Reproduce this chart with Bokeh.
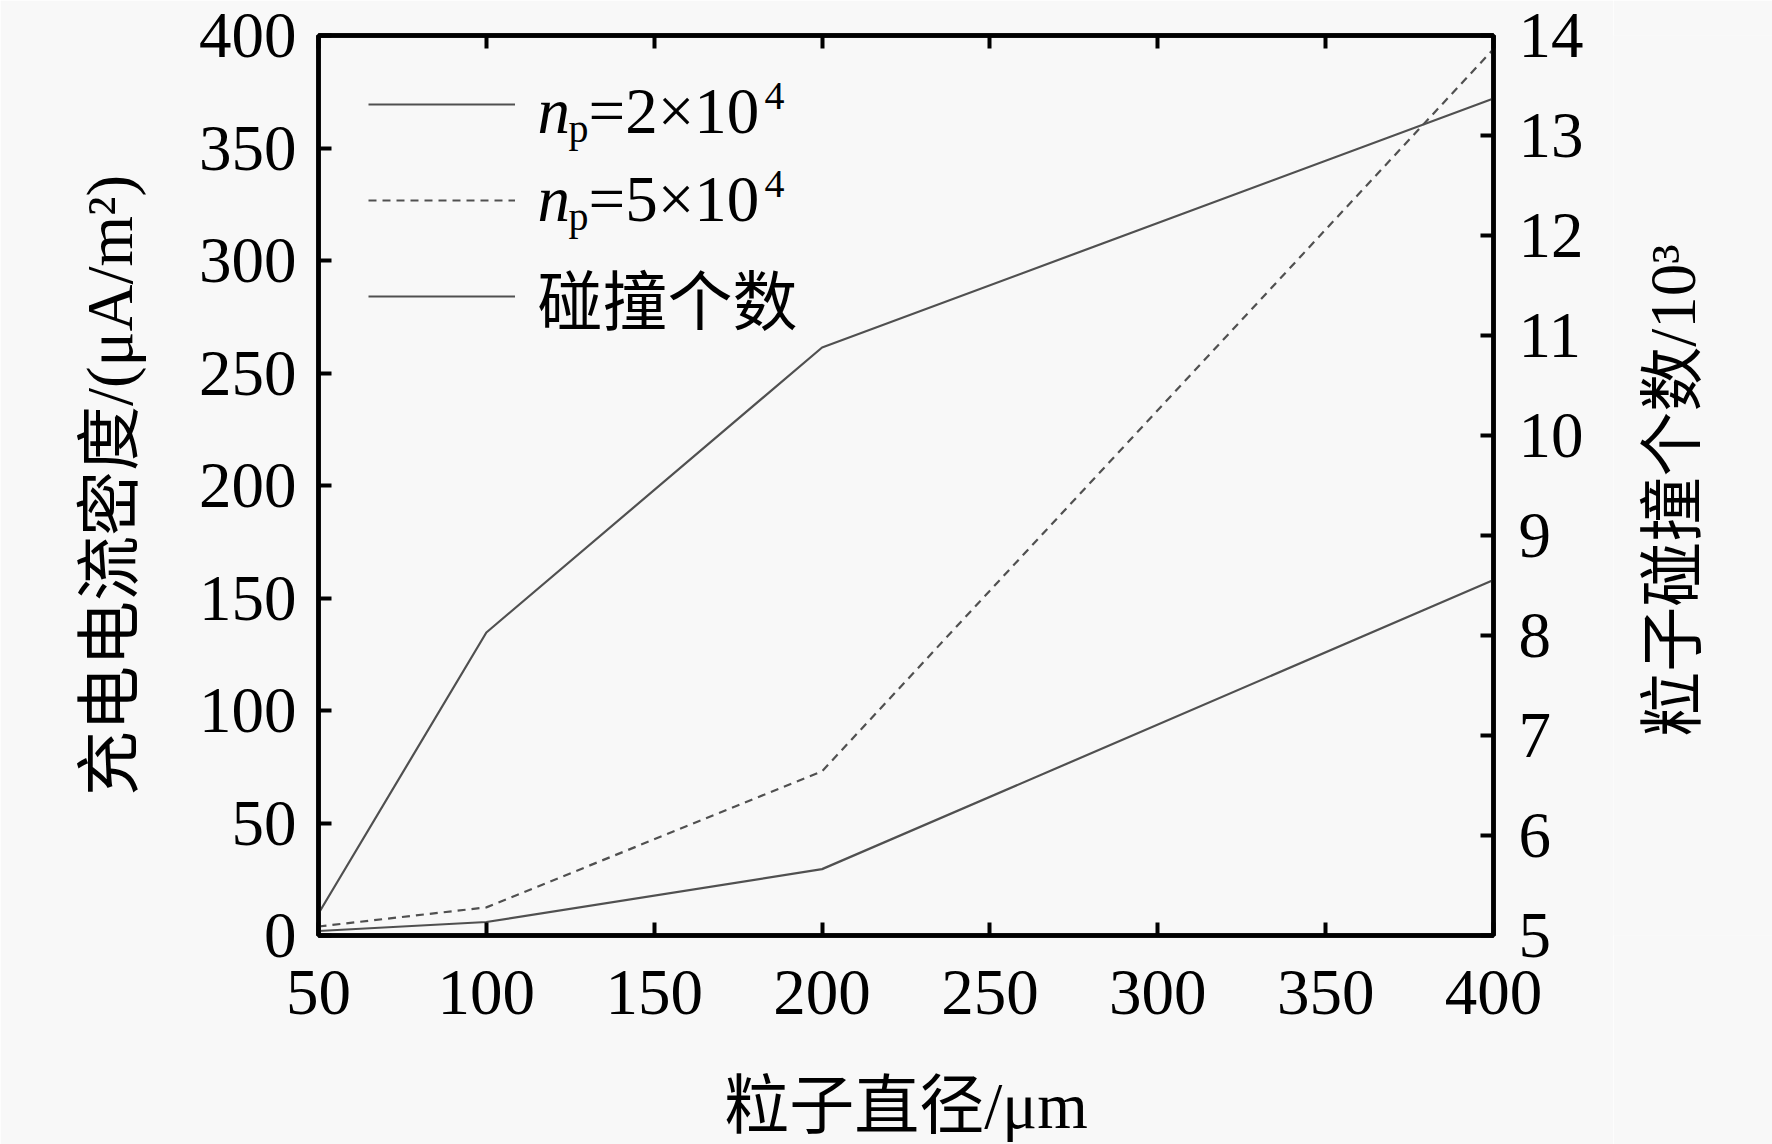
import math
from bokeh.plotting import figure
from bokeh.layouts import row
from bokeh.models import (Range1d, LinearAxis, FixedTicker, Legend, LegendItem,
                          Label, CustomJSTickFormatter)
from bokeh.embed import file_html
from bokeh.resources import INLINE

# ---- data ----
diameter_um = [50, 100, 200, 400]
current_np_2e4 = [2.0, 6.0, 29.5, 158.0]      # uA/m^2, left axis
current_np_5e4 = [4.0, 12.5, 73.0, 394.0]     # uA/m^2, left axis
collisions_1e3 = [5.22, 8.03, 10.88, 13.37]   # x10^3, right axis

x_ticks = [50, 100, 150, 200, 250, 300, 350, 400]
left_ticks = [0, 50, 100, 150, 200, 250, 300, 350, 400]
right_ticks = [5, 6, 7, 8, 9, 10, 11, 12, 13, 14]

x_title = "粒子直径/μm"
left_title = "充电电流密度/(μA/m²)"
right_title = "粒子碰撞个数/10³"

FONT = "Liberation Serif, Noto Sans CJK SC"
BG = "#f8f8f8"
LINE = "#505050"
FS = "65px"

p = figure(width=1613, height=1144, output_backend="svg", toolbar_location=None,
           x_range=Range1d(50, 400), y_range=Range1d(0, 400),
           min_border_left=318, min_border_right=120, min_border_top=35,
           min_border_bottom=207, background_fill_color=BG, border_fill_color=BG)
p.grid.visible = False
p.outline_line_color = "black"
p.outline_line_width = 4.5
p.extra_y_ranges = {"right": Range1d(5, 14)}


def style_axis(ax, standoff):
    ax.axis_line_color = "black"
    ax.axis_line_width = 4.5
    ax.major_tick_in = 13
    ax.major_tick_out = 0
    ax.major_tick_line_width = 4
    ax.minor_tick_line_color = None
    ax.major_label_text_font = FONT
    ax.major_label_text_font_size = FS
    ax.major_label_text_color = "black"
    ax.major_label_standoff = standoff
    ax.axis_label_text_font = FONT
    ax.axis_label_text_font_size = FS
    ax.axis_label_text_font_style = "normal"
    ax.axis_label_text_color = "black"


xa = p.xaxis[0]
xa.ticker = FixedTicker(ticks=x_ticks)
xa.axis_label = x_title
style_axis(xa, 35)
xa.axis_label_standoff = 53

ya = p.yaxis[0]
ya.ticker = FixedTicker(ticks=left_ticks)
ya.axis_label = left_title
style_axis(ya, 22)
ya.axis_label_standoff = 50

# right axis: ticks and tick labels
ra = LinearAxis(y_range_name="right", ticker=FixedTicker(ticks=right_ticks))
style_axis(ra, 25)
p.add_layout(ra, "right")

ta = LinearAxis(ticker=FixedTicker(ticks=x_ticks),
                formatter=CustomJSTickFormatter(code="return ''"))
style_axis(ta, 0)
ta.major_label_text_font_size = "1px"
p.add_layout(ta, "above")

r1 = p.line(diameter_um, current_np_2e4, line_color=LINE, line_width=2.2)
r2 = p.line(diameter_um, current_np_5e4, line_color=LINE, line_width=2.2,
            line_dash="8 6")
r3 = p.line(diameter_um, collisions_1e3, line_color=LINE, line_width=2.2,
            y_range_name="right")

legend = Legend(items=[LegendItem(label="", renderers=[r1]),
                       LegendItem(label="", renderers=[r2]),
                       LegendItem(label="", renderers=[r3])],
                location=(50, 591), glyph_width=147, glyph_height=96,
                label_height=96, label_width=0, label_standoff=22, spacing=0,
                padding=0, margin=0, border_line_color=None,
                background_fill_alpha=0, label_text_font_size="1px")
p.add_layout(legend)


# legend texts (rich text: italic n, subscript p, superscript exponent)
def add_rich(base_y, mantissa):
    p.add_layout(Label(x=219, y=base_y, x_units="screen", y_units="screen", text="n",
                       text_font="Liberation Serif", text_font_style="italic",
                       text_font_size=FS, text_color="black", text_baseline="alphabetic"))
    p.add_layout(Label(x=250, y=base_y - 18, x_units="screen", y_units="screen", text="p",
                       text_font="Liberation Serif", text_font_size="40px",
                       text_color="black", text_baseline="alphabetic"))
    p.add_layout(Label(x=270, y=base_y, x_units="screen", y_units="screen",
                       text=f"={mantissa}×10", text_font="Liberation Serif",
                       text_font_size=FS, text_color="black", text_baseline="alphabetic"))
    p.add_layout(Label(x=446, y=base_y + 15, x_units="screen", y_units="screen", text="4",
                       text_font="Liberation Serif", text_font_size="40px",
                       text_color="black", text_baseline="alphabetic"))


add_rich(825, "2")
add_rich(737, "5")
p.add_layout(Label(x=219, y=633, x_units="screen", y_units="screen", text="碰撞个数",
                   text_font=FONT, text_font_size=FS, text_color="black",
                   text_baseline="alphabetic"))

# right-hand strip carrying the right axis title (reads bottom-to-top)
p2 = figure(width=159, height=1144, output_backend="svg", toolbar_location=None,
            x_range=Range1d(0, 1), y_range=Range1d(0, 1),
            x_axis_location=None, y_axis_location=None, min_border=0,
            background_fill_color=BG, border_fill_color=BG, outline_line_color=None)
p2.grid.visible = False
p2.add_layout(Label(x=59, y=445, x_units="screen", y_units="screen", text=right_title,
                    angle=math.pi / 2, text_align="center", text_baseline="middle",
                    text_font=FONT, text_font_size=FS, text_color="black"))

layout = row(p, p2, spacing=0)
open("out.html", "w").write(file_html(layout, INLINE))
